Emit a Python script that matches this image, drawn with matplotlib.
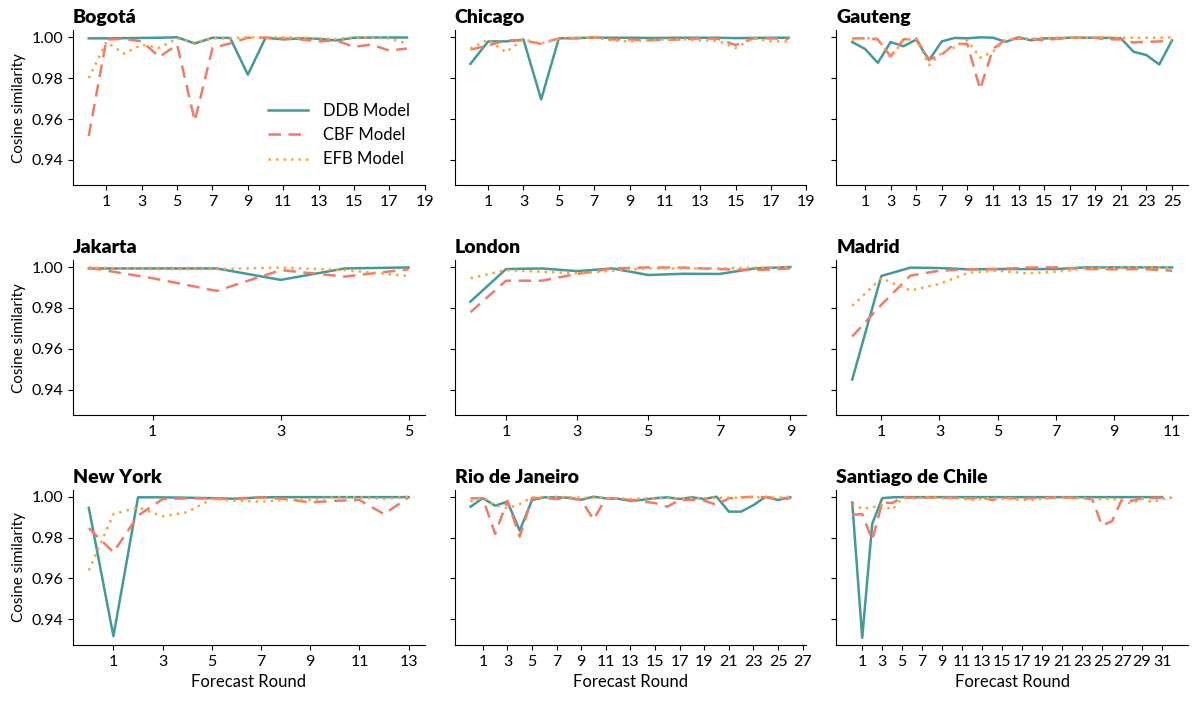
import matplotlib
matplotlib.use("Agg")
import matplotlib.pyplot as plt

plt.rcParams['font.family'] = ['Lato', 'DejaVu Sans']

cities = ["Bogotá", "Chicago", "Gauteng", "Jakarta", "London", "Madrid",
          "New York", "Rio de Janeiro", "Santiago de Chile"]
models = ["DDB Model", "CBF Model", "EFB Model"]

# cosine similarity per forecast round (index 0 = round 0)
ddb = {
    "Bogotá": [0.9995, 0.9995, 0.9996, 0.9997, 0.9998, 1.0, 0.997, 0.9998, 0.9997, 0.9817,
               0.9998, 0.999, 0.9995, 0.9993, 0.9985, 0.9998, 0.9999, 0.9999, 0.9999],
    "Chicago": [0.987, 0.998, 0.998, 0.9989, 0.9696, 0.9995, 0.9997, 0.9998, 0.9998, 0.9998,
                0.9997, 0.9997, 0.9998, 0.9998, 0.9998, 0.9996, 0.9997, 0.9998, 0.9998],
    "Gauteng": [0.9977, 0.9943, 0.9875, 0.9977, 0.9956, 0.9989, 0.9888, 0.998, 0.9997, 0.9995,
                1.0, 0.9998, 0.9978, 1.0, 0.9985, 0.9995, 0.9995, 0.9998, 0.9998, 0.9998,
                0.9997, 0.9995, 0.9929, 0.9913, 0.9867, 0.9985],
    "Jakarta": [0.9993, 0.9993, 0.9993, 0.9937, 0.9993, 0.9998],
    "London": [0.9831, 0.999, 0.9993, 0.998, 0.9993, 0.9961, 0.9967, 0.9966, 0.9993, 1.0],
    "Madrid": [0.9449, 0.9956, 0.9997, 0.9995, 0.9989, 0.999, 0.999, 0.999, 0.9998, 0.9998,
               0.9998, 0.9998],
    "New York": [0.9945, 0.9317, 0.9997, 0.9997, 0.9995, 0.9993, 0.999, 0.9997, 0.9998, 0.9998,
                 0.9998, 0.9998, 0.9998, 0.9998],
    "Rio de Janeiro": [0.9951, 0.9993, 0.9956, 0.9976, 0.9834, 0.9984, 0.9997, 0.9997, 0.9995,
                       0.9985, 1.0, 0.9992, 0.999, 0.998, 0.9985, 0.9993, 0.9997, 0.9989, 0.9997,
                       0.9989, 1.0, 0.9927, 0.9927, 0.9959, 1.0, 0.9984, 0.9997],
    "Santiago de Chile": [0.9972, 0.9309, 0.9867, 0.9993, 0.9997, 0.9998, 0.9998, 0.9998, 0.9998,
                          0.9998, 0.9998, 0.9998, 0.9998, 0.9998, 0.9998, 0.9998, 0.9998, 0.9998,
                          0.9998, 0.9998, 0.9998, 0.9998, 0.9998, 0.9998, 0.9998, 0.9998, 0.9998,
                          0.9998, 0.9998, 0.9998, 0.9998, 0.9998],
}
cbf = {
    "Bogotá": [0.9517, 0.9989, 0.9993, 0.998, 0.9904, 0.9964, 0.959, 0.9948, 0.997, 0.9998,
               0.9998, 0.9995, 0.999, 0.998, 0.9985, 0.9953, 0.9965, 0.9935, 0.9945],
    "Chicago": [0.994, 0.996, 0.9985, 0.9985, 0.9968, 0.9995, 0.9995, 1.0, 0.999, 0.999,
                0.9985, 0.9988, 0.999, 0.9995, 0.9993, 0.9962, 0.9995, 0.9995, 0.9992],
    "Gauteng": [0.9995, 0.9995, 0.999, 0.9907, 0.999, 0.9995, 0.9891, 0.9915, 0.9969, 0.9967,
                0.9745, 0.9943, 0.999, 0.9993, 0.9992, 0.9985, 0.9993, 0.9997, 0.9998, 0.9997,
                0.999, 0.999, 0.9975, 0.9978, 0.998, 0.9985],
    "Jakarta": [0.9997, 0.9945, 0.9883, 0.9985, 0.9953, 0.9989],
    "London": [0.9779, 0.9933, 0.9933, 0.9966, 0.9993, 0.9998, 0.9997, 0.999, 0.9985, 0.9993],
    "Madrid": [0.966, 0.9815, 0.9958, 0.9982, 0.9989, 0.999, 0.9997, 0.9998, 0.999, 0.9989,
               0.999, 0.9982],
    "New York": [0.9846, 0.9728, 0.9907, 0.9989, 0.9992, 0.9992, 0.9992, 0.9997, 0.9989, 0.9972,
                 0.998, 0.9984, 0.9915, 0.9997],
    "Rio de Janeiro": [0.9992, 0.9992, 0.9818, 0.998, 0.9805, 0.9993, 0.9993, 0.9989, 0.9993,
                       0.9984, 0.9888, 0.9992, 0.9992, 0.9984, 0.9976, 0.9969, 0.9951, 0.9984,
                       0.9984, 0.998, 0.9961, 0.9992, 0.9997, 1.0, 0.9997, 0.9992, 0.9992],
    "Santiago de Chile": [0.9911, 0.9915, 0.9789, 0.9972, 0.9969, 0.9997, 0.9995, 0.9995, 0.9996,
                          0.9996, 0.9995, 0.9993, 0.9992, 0.9995, 0.9984, 0.9995, 0.9993, 0.999,
                          0.9993, 0.9995, 0.9996, 0.9996, 0.9995, 0.9993, 0.9989, 0.9859, 0.988,
                          0.9989, 0.998, 0.9993, 0.9995, 0.9995, 0.9995],
}
efb = {
    "Bogotá": [0.980, 0.9977, 0.992, 0.9964, 0.9948, 0.9995, 0.9975, 0.9995, 0.9995, 1.0,
               1.0, 1.0, 0.9998, 0.9995, 0.9992, 1.0, 0.9998, 0.9995, 0.997],
    "Chicago": [0.9945, 0.9989, 0.9927, 0.999, 0.997, 0.9993, 0.9995, 1.0, 0.9985, 0.998,
                0.9985, 0.999, 0.999, 0.9985, 0.9983, 0.9948, 0.9995, 0.998, 0.998],
    "Gauteng": [0.9988, 0.9995, 0.9995, 0.990, 0.9985, 0.9995, 0.9864, 0.9924, 0.9951, 0.9985,
                0.990, 0.993, 0.999, 0.9995, 0.9993, 0.9997, 0.9998, 0.9998, 0.9998, 1.0,
                1.0, 0.9998, 0.9998, 0.9998, 0.9998, 1.0],
    "Jakarta": [0.9997, 0.999, 0.999, 0.9997, 0.9985, 0.9956],
    "London": [0.9945, 0.9985, 0.9977, 0.9969, 0.9982, 0.9993, 0.9993, 0.9993, 0.9997, 1.0],
    "Madrid": [0.981, 0.9945, 0.9885, 0.9917, 0.9972, 0.9982, 0.9969, 0.9977, 0.9993, 0.9995,
               0.9997, 0.9998],
    "New York": [0.9639, 0.9915, 0.9948, 0.9904, 0.9924, 0.9989, 0.998, 0.9976, 0.9984, 0.9985,
                 0.9997, 0.9997, 0.9989, 1.0],
    "Rio de Janeiro": [0.9977, 0.9997, 0.9959, 0.9943, 0.9964, 0.9997, 0.9997, 1.0, 0.9997,
                       0.9995, 0.9995, 0.9993, 0.9993, 0.9989, 0.9992, 0.9993, 0.9993, 0.9993,
                       0.9993, 0.9993, 0.9995, 0.9995, 0.9995, 0.9997, 0.9997, 0.9995, 1.0],
    "Santiago de Chile": [0.9967, 0.994, 0.9948, 0.9959, 0.9936, 0.9993, 0.9993, 0.9995, 0.9995,
                          0.9993, 0.9993, 0.999, 0.9984, 0.999, 0.9993, 0.999, 0.9988, 0.9984,
                          0.9984, 0.999, 0.9993, 0.9995, 0.9993, 0.9993, 0.999, 0.9988, 0.999,
                          0.998, 0.9966, 0.9993, 0.9972, 0.9989, 0.9995],
}

colors = ["#439a98", "#ef7b68", "#fca43c"]
styles = ["-", (0, (5, 3)), (0, (1, 2))]


def main():
    fig, axes = plt.subplots(3, 3, figsize=(11.94, 7.04), dpi=100, sharey=True)
    fig.subplots_adjust(left=0.061, right=0.995, top=0.957, bottom=0.084,
                        wspace=0.085, hspace=0.48)

    for ax, city in zip(axes.flat, cities):
        for series, lab, c, ls in zip([ddb, cbf, efb], models, colors, styles):
            vals = series[city]
            ax.plot(range(len(vals)), vals, color=c, linestyle=ls, lw=1.8, label=lab)
        n = len(ddb[city])
        ax.set_xticks(range(1, n + 1, 2))
        ax.set_title(city, loc="left", fontsize=14, fontweight="heavy", pad=5)
        ax.spines["top"].set_visible(False)
        ax.spines["right"].set_visible(False)
        ax.tick_params(labelsize=11.5)

    for ax in axes[:, 0]:
        ax.set_ylabel("Cosine similarity", fontsize=11)
    for ax in axes[-1, :]:
        ax.set_xlabel("Forecast Round", fontsize=12)
    axes[0, 0].set_yticks([0.94, 0.96, 0.98, 1.00])

    axes[0, 0].legend(frameon=False, fontsize=12, loc="lower right",
                      bbox_to_anchor=(1.0, 0.02), handlelength=2.4,
                      handletextpad=0.9)

    fig.savefig("out.png", dpi=100)


if __name__ == "__main__":
    main()
